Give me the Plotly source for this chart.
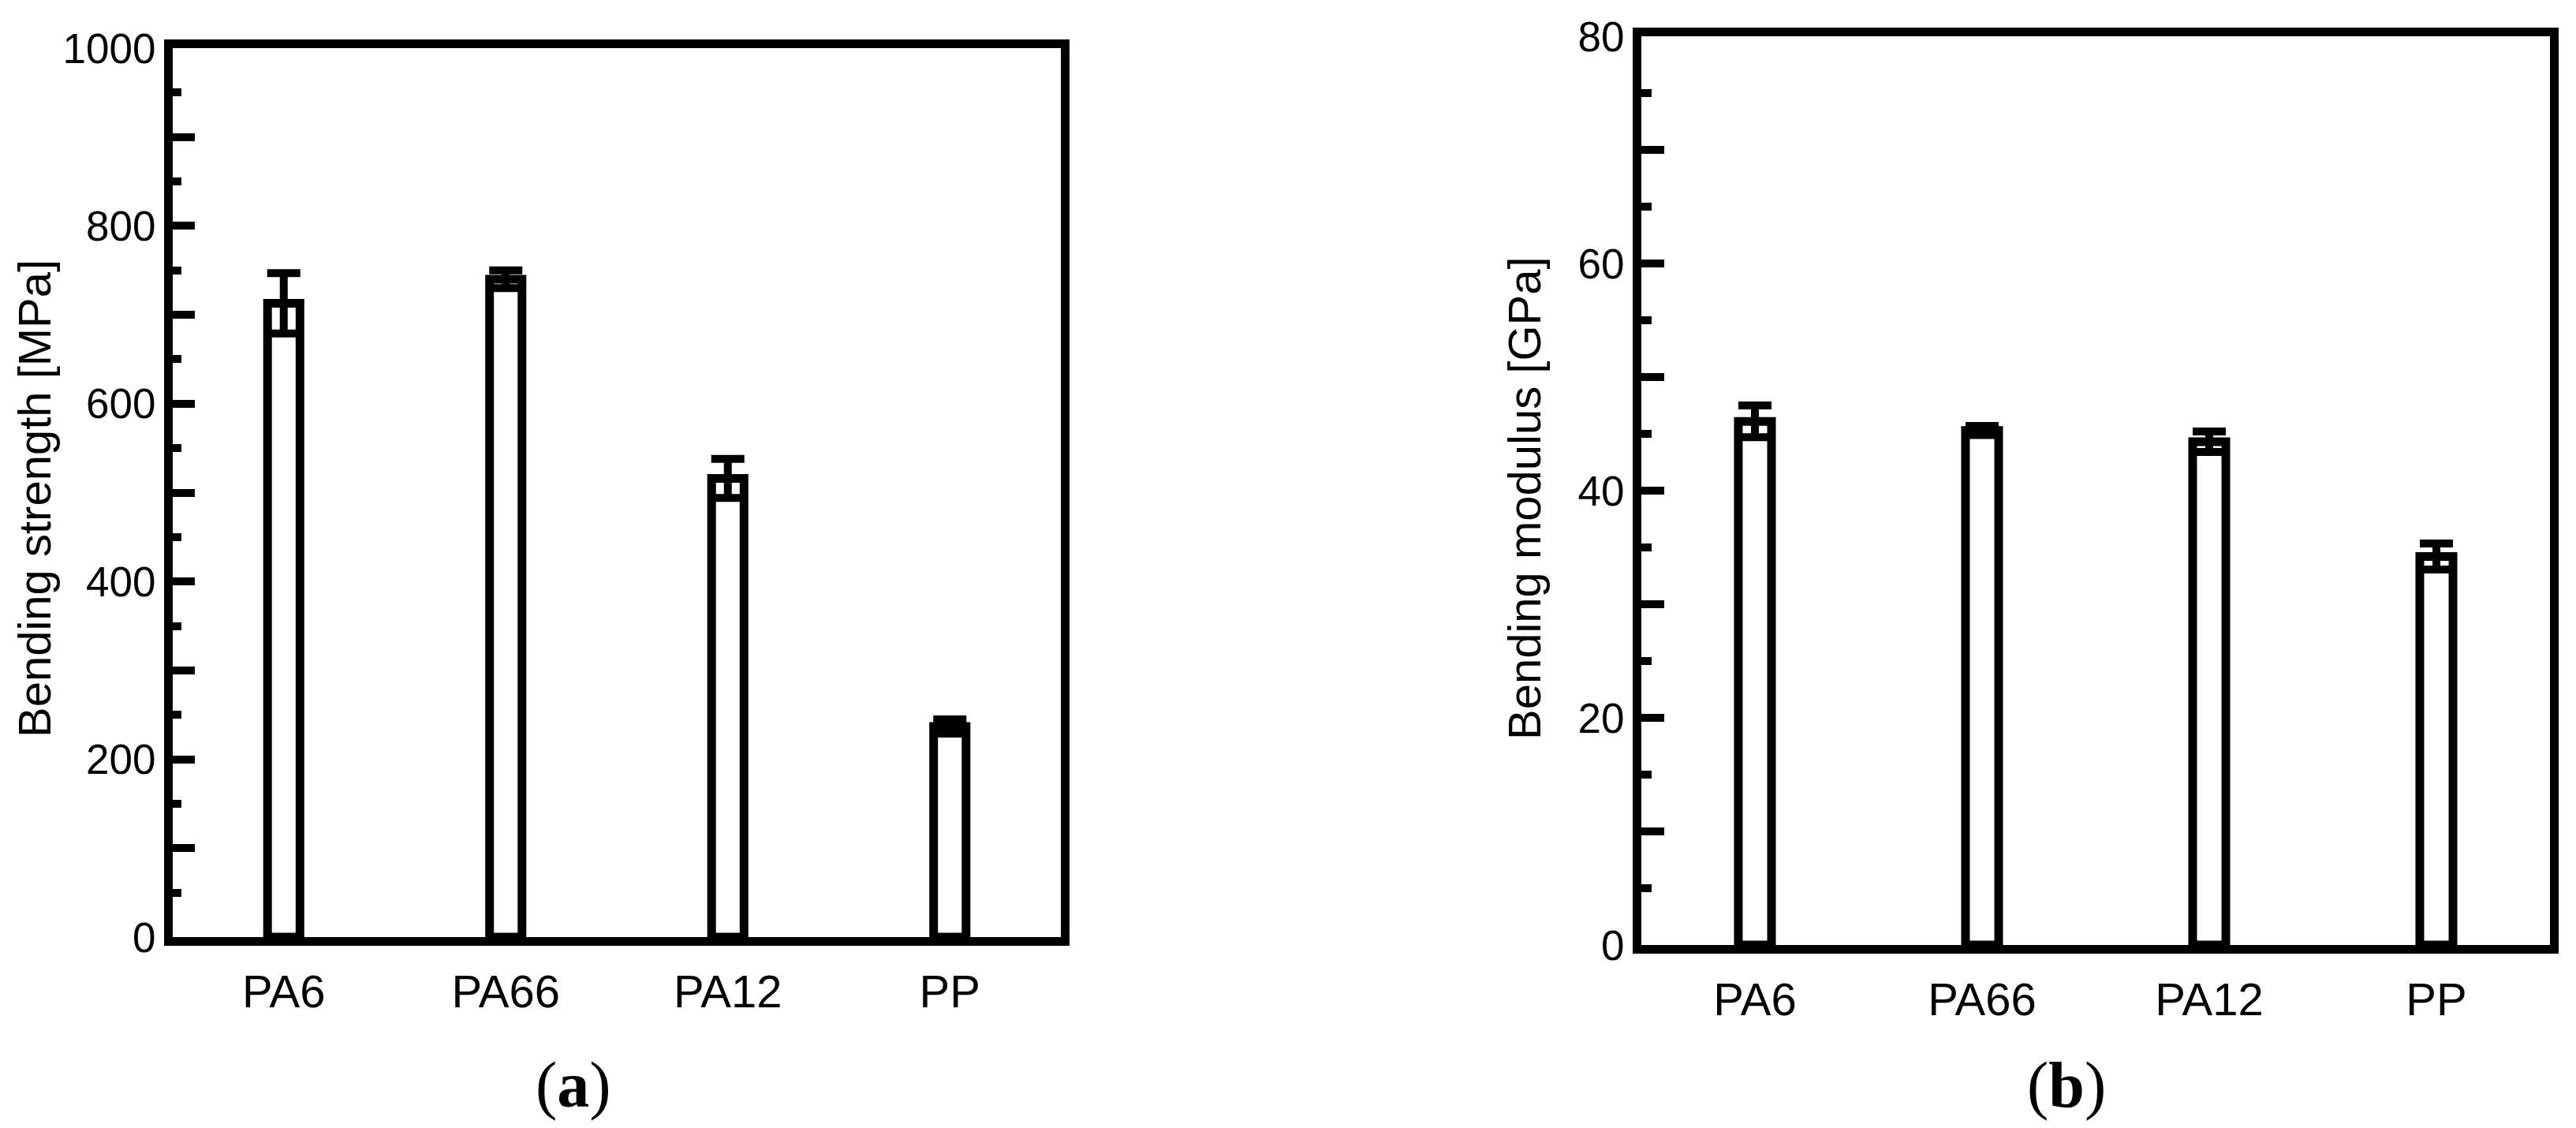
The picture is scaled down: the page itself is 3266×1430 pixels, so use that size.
import plotly.graph_objects as go

W, H = 3266, 1430
OFF = 8  # default page body margin offset compensation

categories = ["PA6", "PA66", "PA12", "PP"]
strength = [713, 740, 516, 237]
strength_err = [34, 10, 22, 8]
modulus = [46.1, 45.3, 44.3, 34.2]
modulus_err = [1.4, 0.4, 0.9, 1.15]

strength_ticks = list(range(0, 1001, 100))
strength_ticktext = [str(v) if v % 200 == 0 else "" for v in strength_ticks]
strength_minor = list(range(50, 1000, 100))
modulus_ticks = list(range(0, 81, 10))
modulus_ticktext = [str(v) if v % 20 == 0 else "" for v in modulus_ticks]
modulus_minor = list(range(5, 80, 10))

def px(x):
    return (x - OFF) / W

def py(y):
    return 1 - (y - OFF) / H

fig = go.Figure()

bar_style = dict(
    marker=dict(color="white", line=dict(color="black", width=11)),
    width=0.146,
    showlegend=False,
)

fig.add_trace(go.Bar(
    x=categories, y=strength,
    error_y=dict(type="data", array=strength_err, color="black", thickness=10, width=21),
    xaxis="x", yaxis="y", **bar_style))
fig.add_trace(go.Bar(
    x=categories, y=modulus,
    error_y=dict(type="data", array=modulus_err, color="black", thickness=10, width=21),
    xaxis="x2", yaxis="y2", **bar_style))

font_sans = "Liberation Sans, Arial, sans-serif"

xcommon = dict(
    type="category", range=[-0.5, 3.5], showline=True, linewidth=11, linecolor="black",
    mirror=True, ticks="", showgrid=False, zeroline=False, automargin=False,
    ticklabelstandoff=8,
    tickfont=dict(family=font_sans, size=58, color="black"),
)
ycommon = dict(
    showline=True, linewidth=11, linecolor="black", mirror=True, automargin=False,
    ticks="inside", tickwidth=10, tickcolor="black", showgrid=False, zeroline=False,
    tickfont=dict(family=font_sans, size=53, color="black"),
    tickmode="array",
)

fig.update_layout(
    width=W, height=H,
    template="none",
    margin=dict(l=0, r=0, t=0, b=0, autoexpand=False),
    paper_bgcolor="white", plot_bgcolor="white",
    xaxis=dict(domain=[px(219), px(1345)], anchor="y", **xcommon),
    yaxis=dict(domain=[py(1188), py(61)], anchor="x", range=[0, 1000],
               tickvals=strength_ticks, ticktext=strength_ticktext, ticklen=28,
               minor=dict(tickvals=strength_minor, ticks="inside", ticklen=11,
                          tickwidth=10, tickcolor="black", showgrid=False),
               **ycommon),
    xaxis2=dict(domain=[px(2081), px(3233)], anchor="y2", **xcommon),
    yaxis2=dict(domain=[py(1198), py(46)], anchor="x2", range=[0, 80],
                tickvals=modulus_ticks, ticktext=modulus_ticktext, ticklen=29,
                minor=dict(tickvals=modulus_minor, ticks="inside", ticklen=13,
                           tickwidth=10, tickcolor="black", showgrid=False),
                **ycommon),
)

annots = [
    dict(text="Bending strength [MPa]", x=px(44), y=py(632), textangle=-90,
         font=dict(family=font_sans, size=58, color="black")),
    dict(text="Bending modulus [GPa]", x=px(1933), y=py(632), textangle=-90,
         font=dict(family=font_sans, size=58, color="black")),
    dict(text="(<b>a</b>)", x=px(727), y=py(1375),
         font=dict(family="Liberation Serif, Times New Roman, serif", size=82, color="black")),
    dict(text="(<b>b</b>)", x=px(2620), y=py(1375),
         font=dict(family="Liberation Serif, Times New Roman, serif", size=82, color="black")),
]
for a in annots:
    fig.add_annotation(xref="paper", yref="paper", showarrow=False,
                       xanchor="center", yanchor="middle", **a)

fig.write_html("out.html")
